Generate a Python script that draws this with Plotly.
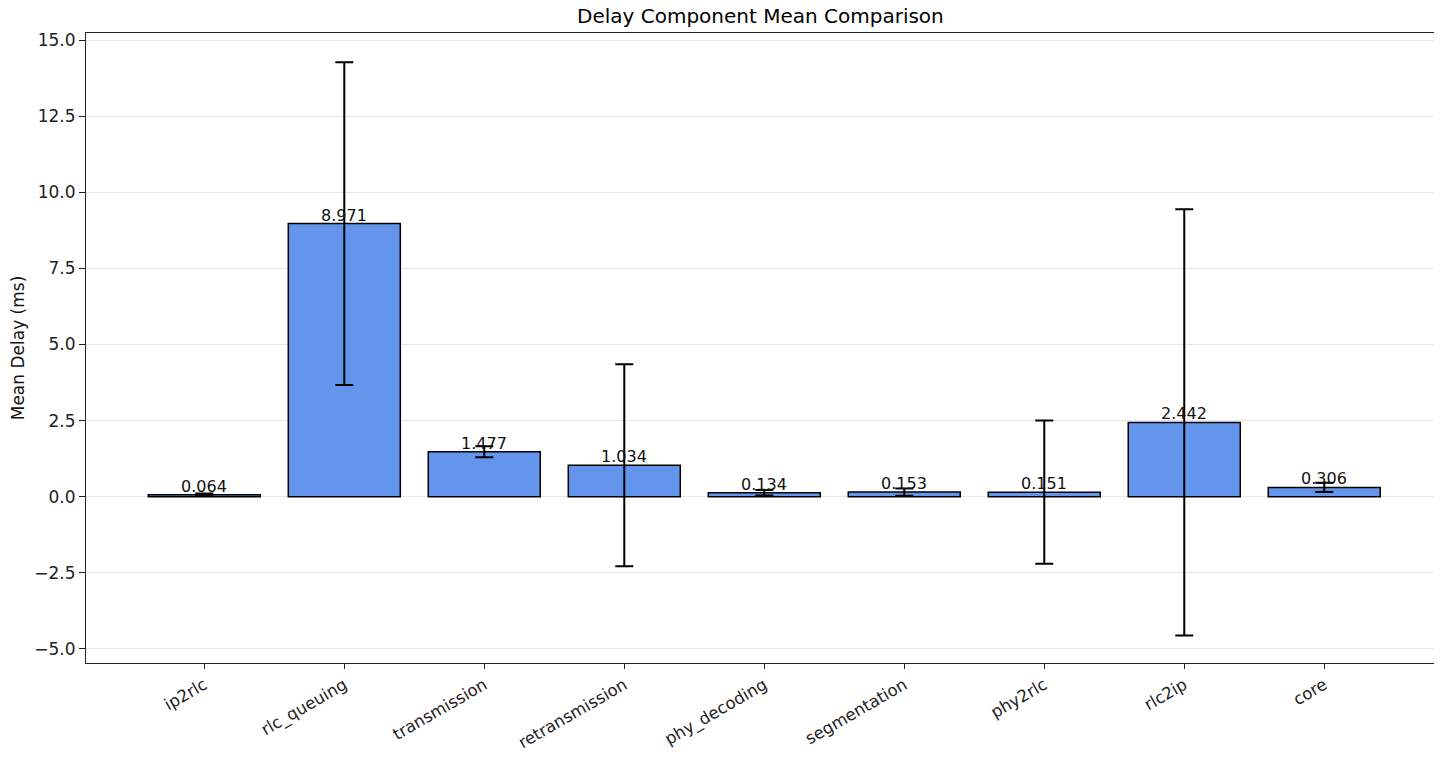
import plotly.graph_objects as go

categories = ["ip2rlc", "rlc_queuing", "transmission", "retransmission",
              "phy_decoding", "segmentation", "phy2rlc", "rlc2ip", "core"]
means = [0.064, 8.971, 1.477, 1.034, 0.134, 0.153, 0.151, 2.442, 0.306]
errors = [0.04, 5.30, 0.18, 3.32, 0.09, 0.12, 2.35, 7.00, 0.15]
y_ticks = [-5.0, -2.5, 0.0, 2.5, 5.0, 7.5, 10.0, 12.5, 15.0]
title_text = "Delay Component Mean Comparison"

x_idx = list(range(len(categories)))
font = "DejaVu Sans"

fig = go.Figure()
fig.add_trace(go.Bar(
    x=x_idx, y=means, width=0.8,
    marker=dict(color="#6495ED", line=dict(color="black", width=1.5)),
    error_y=dict(type="data", array=errors, visible=True, color="black",
                 thickness=2, width=9),
))

for i, m in enumerate(means):
    fig.add_annotation(x=i, y=m, text=f"{m:.3f}", showarrow=False,
                       yanchor="bottom", xanchor="center", yshift=-3,
                       font=dict(family=font, size=16, color="#111111"))

fig.add_annotation(x=0.5, y=1.0, xref="paper", yref="paper", text=title_text,
                   showarrow=False, xanchor="center", yanchor="middle", yshift=17,
                   font=dict(family=font, size=20, color="black"))

fig.update_layout(
    width=1426, height=744,
    margin=dict(l=78, r=0, t=25, b=89),
    plot_bgcolor="white", paper_bgcolor="white",
    showlegend=False,
    font=dict(family=font, color="black"),
)
fig.update_xaxes(
    tickmode="array", tickvals=x_idx, ticktext=categories,
    range=[-0.845, 8.784], tickangle=-30, automargin=False,
    showline=True, linecolor="#222222", linewidth=1.2, mirror=True,
    ticks="outside", ticklen=5, tickcolor="#222222",
    tickfont=dict(family=font, size=16.5, color="#222222"),
    showgrid=False, zeroline=False,
)
fig.update_yaxes(
    tickmode="array", tickvals=y_ticks,
    ticktext=[f"{v:.1f}".replace("-", "−") for v in y_ticks],
    range=[-5.46, 15.23], automargin=False,
    showline=True, linecolor="#222222", linewidth=1.2, mirror=True,
    ticks="outside", ticklen=6, tickcolor="#222222",
    tickfont=dict(family=font, size=17, color="#222222"),
    showgrid=True, gridcolor="#e6e6e6", gridwidth=1, zeroline=False,
    title=dict(text="Mean Delay (ms)", font=dict(family=font, size=17, color="#111111"), standoff=10),
)

fig.write_html("out.html")
